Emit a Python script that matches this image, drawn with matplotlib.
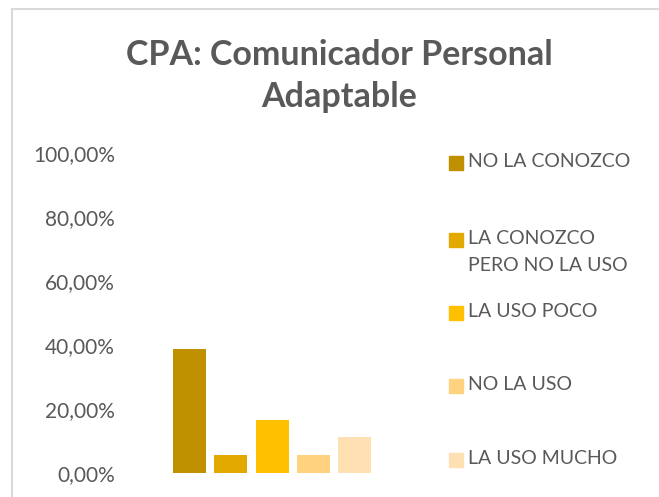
import matplotlib
matplotlib.use("Agg")
import matplotlib.pyplot as plt
from matplotlib.patches import Rectangle
from matplotlib.ticker import FuncFormatter

categorias = ["NO LA CONOZCO", "LA CONOZCO\nPERO NO LA USO", "LA USO POCO", "NO LA USO", "LA USO MUCHO"]
valores = [0.3889, 0.0556, 0.1667, 0.0556, 0.1111]
colores = ["#BF9000", "#E2AA00", "#FFC000", "#FFD280", "#FFE0B3"]
yticks = [0, 0.2, 0.4, 0.6, 0.8, 1.0]
titulo = "CPA: Comunicador Personal\nAdaptable"

W, H = 659, 497
gris = "#595959"
plt.rcParams['font.family'] = ['Lato', 'DejaVu Sans']

fig = plt.figure(figsize=(W / 100, H / 100), dpi=100)

# marco del grafico (sale por la derecha y abajo)
fig.patches.append(Rectangle((12 / W, -0.1), 1.2, (H - 9) / H + 0.1,
                             transform=fig.transFigure, fill=False,
                             edgecolor="#D9D9D9", linewidth=1.5))

# ejes: y=0 en px 473, y=1 en px 153
x0, x1 = 140, 404
ax = fig.add_axes([x0 / W, (H - 473) / H, (x1 - x0) / W, 320 / H])
pos = list(range(len(valores)))
ax.bar(pos, valores, width=0.8, color=colores)
ax.set_ylim(0, 1)
ax.set_xlim((x0 - 189.5) / 41.3, (x1 - 189.5) / 41.3)
ax.set_yticks(yticks)
ax.yaxis.set_major_formatter(FuncFormatter(lambda v, p: f"{v*100:.2f}%".replace(".", ",")))
ax.tick_params(axis="y", length=0, labelsize=15, labelcolor=gris, pad=18)
ax.set_xticks([])
for s in ax.spines.values():
    s.set_visible(False)

fig.text(339 / W, 1 - 76 / H, titulo, ha="center", va="center", fontsize=24.5,
         fontweight="bold", color=gris, linespacing=1.42)

# leyenda
ys = [163, 240, 313, 386, 460]
for lab, c, y in zip(categorias, colores, ys):
    fig.patches.append(Rectangle((449 / W, 1 - (y + 7) / H), 14 / W, 14 / H,
                                 transform=fig.transFigure, color=c))
    fig.text(468 / W, 1 - (y - 10) / H, lab, ha="left", va="top", fontsize=14,
             color=gris, linespacing=1.75)

fig.savefig("out.png", dpi=100)
